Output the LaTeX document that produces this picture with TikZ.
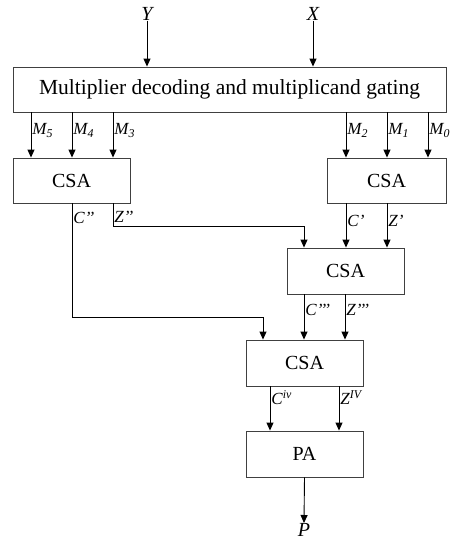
\documentclass[tikz,border=0pt]{standalone}
\usepackage{fontspec}
\setmainfont{Liberation Serif}
\usetikzlibrary{arrows.meta}
\begin{document}
\begin{tikzpicture}[x=1pt,y=-1pt,
  box/.style={draw=black!75,line width=0.9pt,rectangle,inner sep=0pt,font=\fontsize{20}{22}\selectfont},
  arr/.style={draw=black,line width=0.9pt,-{Triangle[length=8pt,width=7pt]}},
  lab/.style={font=\fontsize{17}{19}\selectfont\itshape,inner sep=1pt,anchor=west},
  io/.style={font=\fontsize{20}{22}\selectfont\itshape,inner sep=0pt}]
\useasboundingbox (0,0) rectangle (454,541);
% boxes
\node[box,minimum width=433pt,minimum height=45pt,font=\fontsize{21.5}{23}\selectfont] (top) at (229.5,89.5) {Multiplier decoding and multiplicand gating};
\node[box,minimum width=117pt,minimum height=45pt] (csaL) at (71.5,180.5) {CSA};
\node[box,minimum width=119pt,minimum height=45pt] (csaR) at (386.5,180.5) {CSA};
\node[box,minimum width=117pt,minimum height=46pt] (csaM) at (345.5,271) {CSA};
\node[box,minimum width=117pt,minimum height=46pt] (csaB) at (304.5,363) {CSA};
\node[box,minimum width=117pt,minimum height=46pt] (pa) at (304.5,454) {PA};
% inputs / output
\node[io] (Y) at (147,14) {Y};
\node[io] (X) at (313,14) {X};
\node[io,anchor=north] (P) at (304,523) {P};
\draw[arr] (Y.south) -- (top.north -| Y);
\draw[arr] (X.south) -- (top.north -| X);
\draw[arr] (pa.south) -- (P.north);
% column coordinates
\coordinate (m5) at (31,0);
\coordinate (m4) at (72,0);
\coordinate (m3) at (113,0);
\coordinate (m2) at (346,0);
\coordinate (m1) at (387,0);
\coordinate (m0) at (428,0);
\coordinate (cpp) at (72,317);
\coordinate (zpp) at (113,226);
\coordinate (c3) at (304,0);
\coordinate (z3) at (345,0);
\coordinate (cb) at (263,0);
\coordinate (c4) at (270,0);
\coordinate (z4) at (339,0);
% M arrows
\draw[arr] (top.south -| m5) -- node[lab,pos=0.4] {M\textsubscript{5}} (csaL.north -| m5);
\draw[arr] (top.south -| m4) -- node[lab,pos=0.4] {M\textsubscript{4}} (csaL.north -| m4);
\draw[arr] (top.south -| m3) -- node[lab,pos=0.4] {M\textsubscript{3}} (csaL.north -| m3);
\draw[arr] (top.south -| m2) -- node[lab,pos=0.4] {M\textsubscript{2}} (csaR.north -| m2);
\draw[arr] (top.south -| m1) -- node[lab,pos=0.4] {M\textsubscript{1}} (csaR.north -| m1);
\draw[arr] (top.south -| m0) -- node[lab,pos=0.4] {M\textsubscript{0}} (csaR.north -| m0);
% left CSA outputs
\draw[arr] (csaL.south -| cpp) -- node[lab,pos=0.13] {C’’} (cpp) -| (csaB.north -| cb);
\draw[arr] (csaL.south -| zpp) -- node[lab,pos=0.6] {Z’’} (zpp) -| (csaM.north -| c3);
% right CSA outputs
\draw[arr] (csaR.south -| m2) -- node[lab,pos=0.4] {C’} (csaM.north -| m2);
\draw[arr] (csaR.south -| m1) -- node[lab,pos=0.4] {Z’} (csaM.north -| m1);
% middle CSA outputs
\draw[arr] (csaM.south -| c3) -- node[lab,pos=0.35] {C’’’} (csaB.north -| c3);
\draw[arr] (csaM.south -| z3) -- node[lab,pos=0.35] {Z’’’} (csaB.north -| z3);
% bottom CSA outputs
\draw[arr] (csaB.south -| c4) -- node[lab,pos=0.25] {C\textsuperscript{iv}} (pa.north -| c4);
\draw[arr] (csaB.south -| z4) -- node[lab,pos=0.25] {Z\textsuperscript{IV}} (pa.north -| z4);
\end{tikzpicture}
\end{document}
